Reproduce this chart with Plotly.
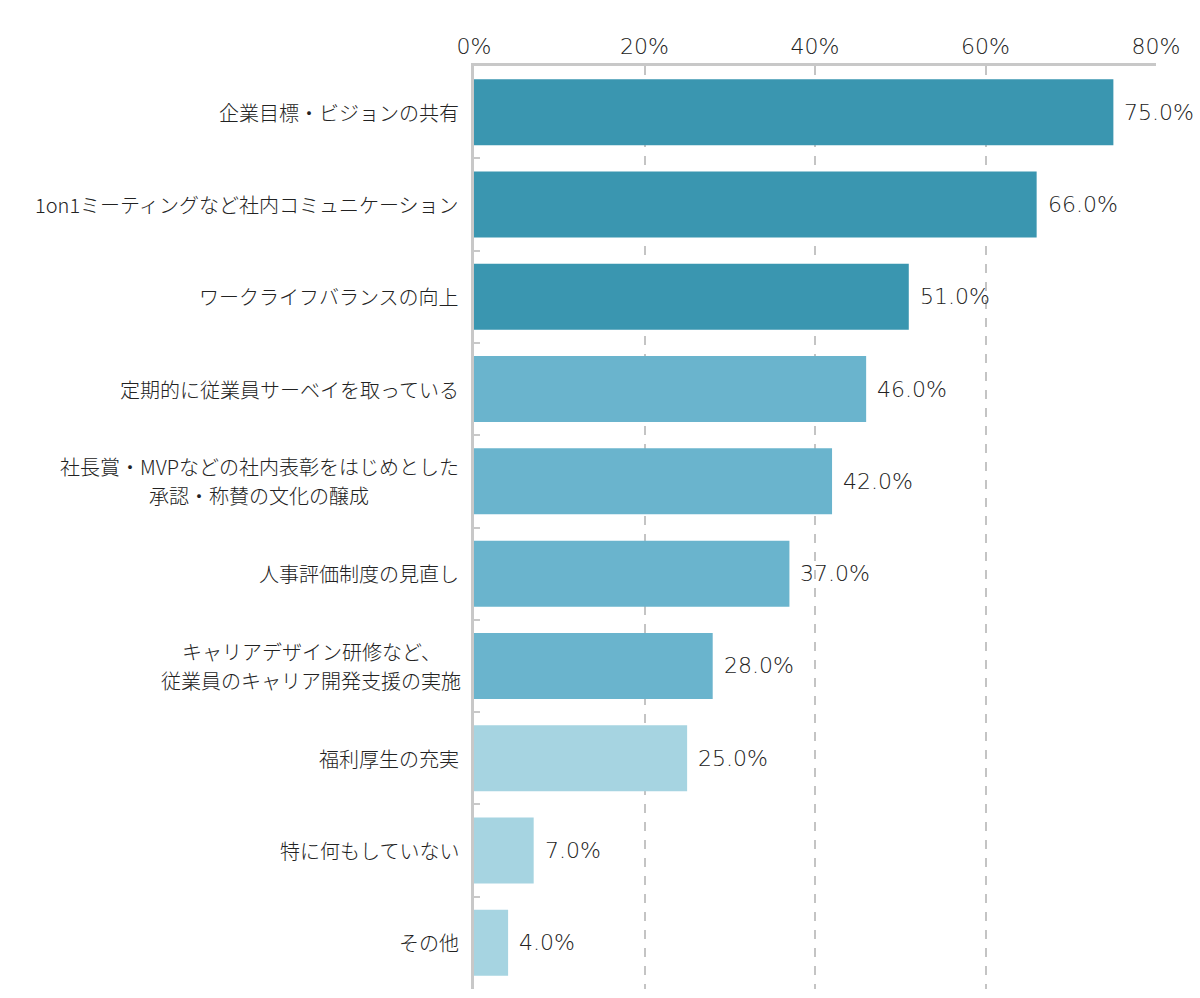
import plotly.graph_objects as go

categories = [
    "企業目標・ビジョンの共有",
    "1on1ミーティングなど社内コミュニケーション",
    "ワークライフバランスの向上",
    "定期的に従業員サーベイを取っている",
    "社長賞・MVPなどの社内表彰をはじめとした<br>承認・称賛の文化の醸成",
    "人事評価制度の見直し",
    "キャリアデザイン研修など、<br>従業員のキャリア開発支援の実施",
    "福利厚生の充実",
    "特に何もしていない",
    "その他",
]
values = [75.0, 66.0, 51.0, 46.0, 42.0, 37.0, 28.0, 25.0, 7.0, 4.0]
tick_vals = [0, 20, 40, 60, 80]
tick_text = ["0%", "20%", "40%", "60%", "80%"]

DARK, MID, LIGHT = "#3a96b0", "#6ab4cd", "#a6d4e1"
colors = [DARK] * 3 + [MID] * 4 + [LIGHT] * 3

FONT = "Noto Sans CJK JP, Noto Sans, sans-serif"
NUMFONT = "DejaVu Sans, Noto Sans CJK JP, sans-serif"
LABEL_SIZE = 20
LABEL_GAP = 13
LINE_STEP = 14.5


def est_width(s, size):
    w = 0.0
    for ch in s:
        w += 0.72 if ord(ch) < 128 else 1.0
    return w * size


fig = go.Figure(go.Bar(
    x=values, y=categories, orientation="h",
    marker=dict(color=colors, line=dict(width=0)),
    hoverinfo="skip",
))

annotations = []
label_font = dict(family=FONT, size=LABEL_SIZE, color="#222222", weight=300)
for c, v in zip(categories, values):
    annotations.append(dict(
        x=v, y=c, xref="x", yref="y", text=f"{v:.1f}%",
        showarrow=False, xanchor="left", yanchor="middle", xshift=9,
        font=dict(family=NUMFONT, size=22, color="#222222", weight=200),
    ))
    lines = c.split("<br>")
    if len(lines) == 1:
        annotations.append(dict(
            x=0, y=c, xref="paper", yref="y", text=c,
            showarrow=False, xanchor="right", yanchor="middle", xshift=-LABEL_GAP,
            font=label_font,
        ))
    else:
        maxw = max(est_width(l, LABEL_SIZE) for l in lines)
        n = len(lines)
        for i, l in enumerate(lines):
            annotations.append(dict(
                x=0, y=c, xref="paper", yref="y", text=l,
                showarrow=False, xanchor="center", yanchor="middle",
                xshift=-LABEL_GAP - maxw / 2,
                yshift=LINE_STEP * ((n - 1) - 2 * i),
                font=label_font,
            ))

fig.update_layout(
    width=1200, height=998,
    margin=dict(l=474, r=44, t=66, b=9),
    paper_bgcolor="white", plot_bgcolor="white",
    showlegend=False,
    bargap=0.285,
    annotations=annotations,
    xaxis=dict(
        side="top", range=[0, 80], tickvals=tick_vals, ticktext=tick_text,
        showgrid=True, gridcolor="#c4c4c4", griddash="dash", gridwidth=1.5,
        showline=True, linecolor="#c8c8c8", linewidth=3, mirror=False,
        ticks="", ticklabelstandoff=0, zeroline=False,
        tickfont=dict(family=NUMFONT, size=22, color="#222222", weight=200),
        fixedrange=True,
    ),
    yaxis=dict(
        autorange="reversed", showticklabels=False,
        showline=True, linecolor="#c8c8c8", linewidth=3,
        ticks="inside", tickson="boundaries", ticklen=6, tickcolor="#c8c8c8", tickwidth=2,
        showgrid=False, fixedrange=True,
    ),
)

fig.write_html("out.html")
